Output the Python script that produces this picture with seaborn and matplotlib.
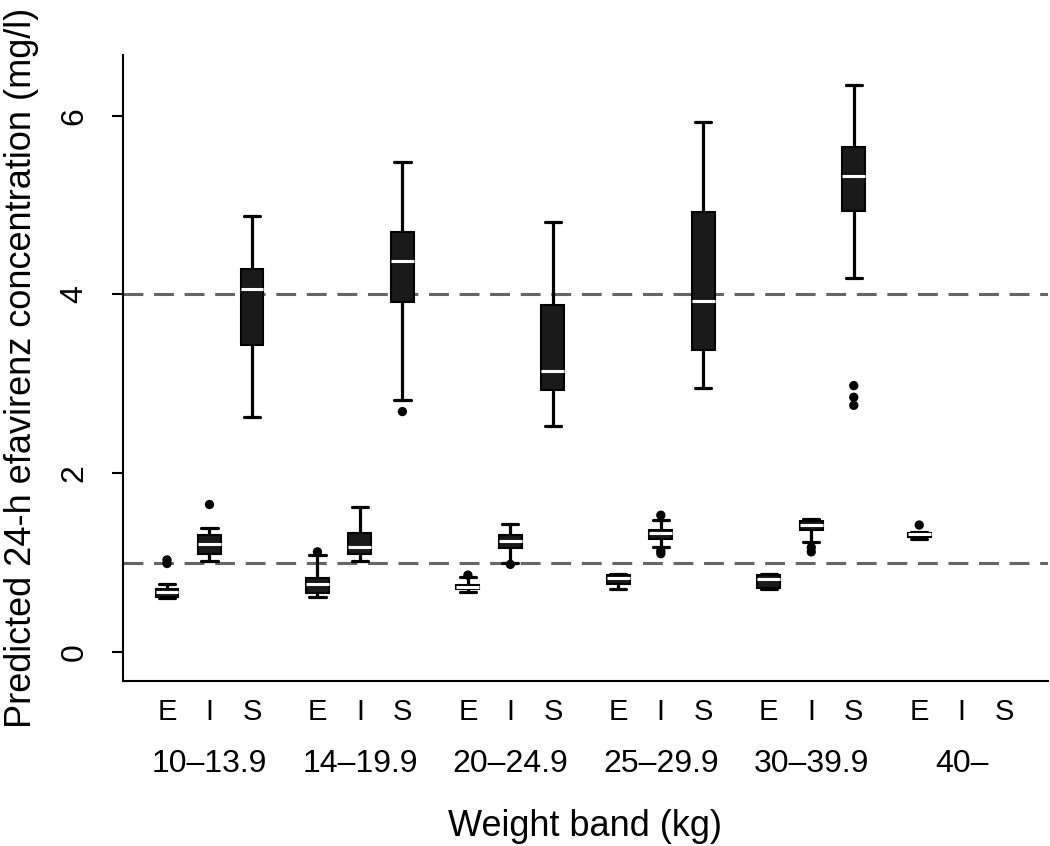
import numpy as np
import pandas as pd
import matplotlib.pyplot as plt
import matplotlib.transforms as mtransforms
import seaborn as sns

# Weight bands and dosing groups
bands = ["10–13.9", "14–19.9", "20–24.9", "25–29.9", "30–39.9", "40–"]
groups = ["E", "I", "S"]

# One entry per drawn box (40– only has E)
box_band = [0, 0, 0, 1, 1, 1, 2, 2, 2, 3, 3, 3, 4, 4, 4, 5]
box_group = ["E", "I", "S"] * 5 + ["E"]

# Box statistics (mg/l)
lower_whisker = [0.60, 1.02, 2.63, 0.61, 1.02, 2.82, 0.67, 1.00, 2.53, 0.70, 1.17, 2.95, 0.70, 1.23, 4.18, 1.26]
q1 = [0.62, 1.10, 3.44, 0.66, 1.10, 3.92, 0.71, 1.16, 2.93, 0.76, 1.26, 3.38, 0.72, 1.36, 4.93, 1.29]
median = [0.67, 1.21, 4.06, 0.76, 1.17, 4.37, 0.73, 1.24, 3.14, 0.83, 1.33, 3.93, 0.82, 1.42, 5.33, 1.32]
q3 = [0.71, 1.31, 4.29, 0.83, 1.33, 4.70, 0.75, 1.31, 3.88, 0.86, 1.37, 4.92, 0.86, 1.46, 5.65, 1.33]
upper_whisker = [0.76, 1.39, 4.88, 1.08, 1.62, 5.48, 0.84, 1.43, 4.81, 0.87, 1.48, 5.93, 0.87, 1.49, 6.34, 1.34]
outliers = [[1.03, 0.99], [1.65], [], [1.12], [], [2.69],
            [0.86], [0.98], [], [], [1.53, 1.13, 1.10], [],
            [], [1.17, 1.12], [2.98, 2.85, 2.76], [1.42]]

# Target concentration limits
ref_lines = [1, 4]

group_gap = 3.54  # spacing between weight bands, in box units

sns.set_theme(style="ticks")
plt.rcParams['font.family'] = ['Liberation Sans', 'DejaVu Sans']
plt.rcParams.update({"text.color": "black", "axes.labelcolor": "black",
                     "xtick.color": "black", "ytick.color": "black"})

# five points per box so that min/q1/median/q3/max come out exactly
pos = [b * group_gap + groups.index(g) for b, g in zip(box_band, box_group)]
rows = []
for p, lo, a, m, c, hi in zip(pos, lower_whisker, q1, median, q3, upper_whisker):
    for v in (lo, a, m, c, hi):
        rows.append({"pos": p, "value": v})
df = pd.DataFrame(rows)

out_x, out_y = [], []
for p, pts in zip(pos, outliers):
    out_x += [p] * len(pts)
    out_y += pts

fig = plt.figure(figsize=(10.5, 8.46), dpi=100)
ax = fig.add_axes([123 / 1050, 165 / 846, 925 / 1050, 626 / 846])

for y in ref_lines:
    ax.axhline(y, color="#666666", lw=2.2, ls=(0, (6.5, 3.5)), zorder=1)

sns.boxplot(data=df, x="pos", y="value", native_scale=True, orient="x",
            whis=(0, 100), width=0.54, color="#1a1a1a", linecolor="black",
            linewidth=1.5, fliersize=0, capwidths=0.38,
            medianprops=dict(color="white", linewidth=2.2),
            whiskerprops=dict(linewidth=2.3), capprops=dict(linewidth=2.3),
            ax=ax)
sns.scatterplot(x=out_x, y=out_y, color="black", s=45, edgecolor="none",
                ax=ax, zorder=4)

ax.set_xlim(-1.035, 20.73)
ax.set_ylim(-0.325, 6.68)

all_pos = [b * group_gap + k for b in range(len(bands)) for k in range(3)]
ax.set_xticks(all_pos)
ax.set_xticklabels(groups * len(bands), fontsize=21)
ax.tick_params(axis="x", length=0, pad=12)

ax.set_yticks([0, 2, 4, 6])
ax.set_yticklabels(["0", "2", "4", "6"], fontsize=23, rotation=90, va="center")
ax.tick_params(axis="y", length=8, width=1.5, pad=16, color="black")

trans = mtransforms.blended_transform_factory(ax.transData, fig.transFigure)
for b, name in enumerate(bands):
    ax.text(b * group_gap + 1, 1 - 772 / 846, name, transform=trans,
            ha="center", va="baseline", fontsize=23, color="black")

ax.set_xlabel("Weight band (kg)", fontsize=26, va="baseline")
ax.xaxis.set_label_coords(0.5, -155 / 626)
ax.set_ylabel("Predicted 24-h efavirenz concentration (mg/l)", fontsize=26, va="center")
ax.yaxis.set_label_coords(-101 / 925, 0.5)

for s in ["top", "right"]:
    ax.spines[s].set_visible(False)
for s in ["left", "bottom"]:
    ax.spines[s].set_color("black")
    ax.spines[s].set_linewidth(1.5)

fig.savefig("out.png", dpi=100, facecolor="white")
